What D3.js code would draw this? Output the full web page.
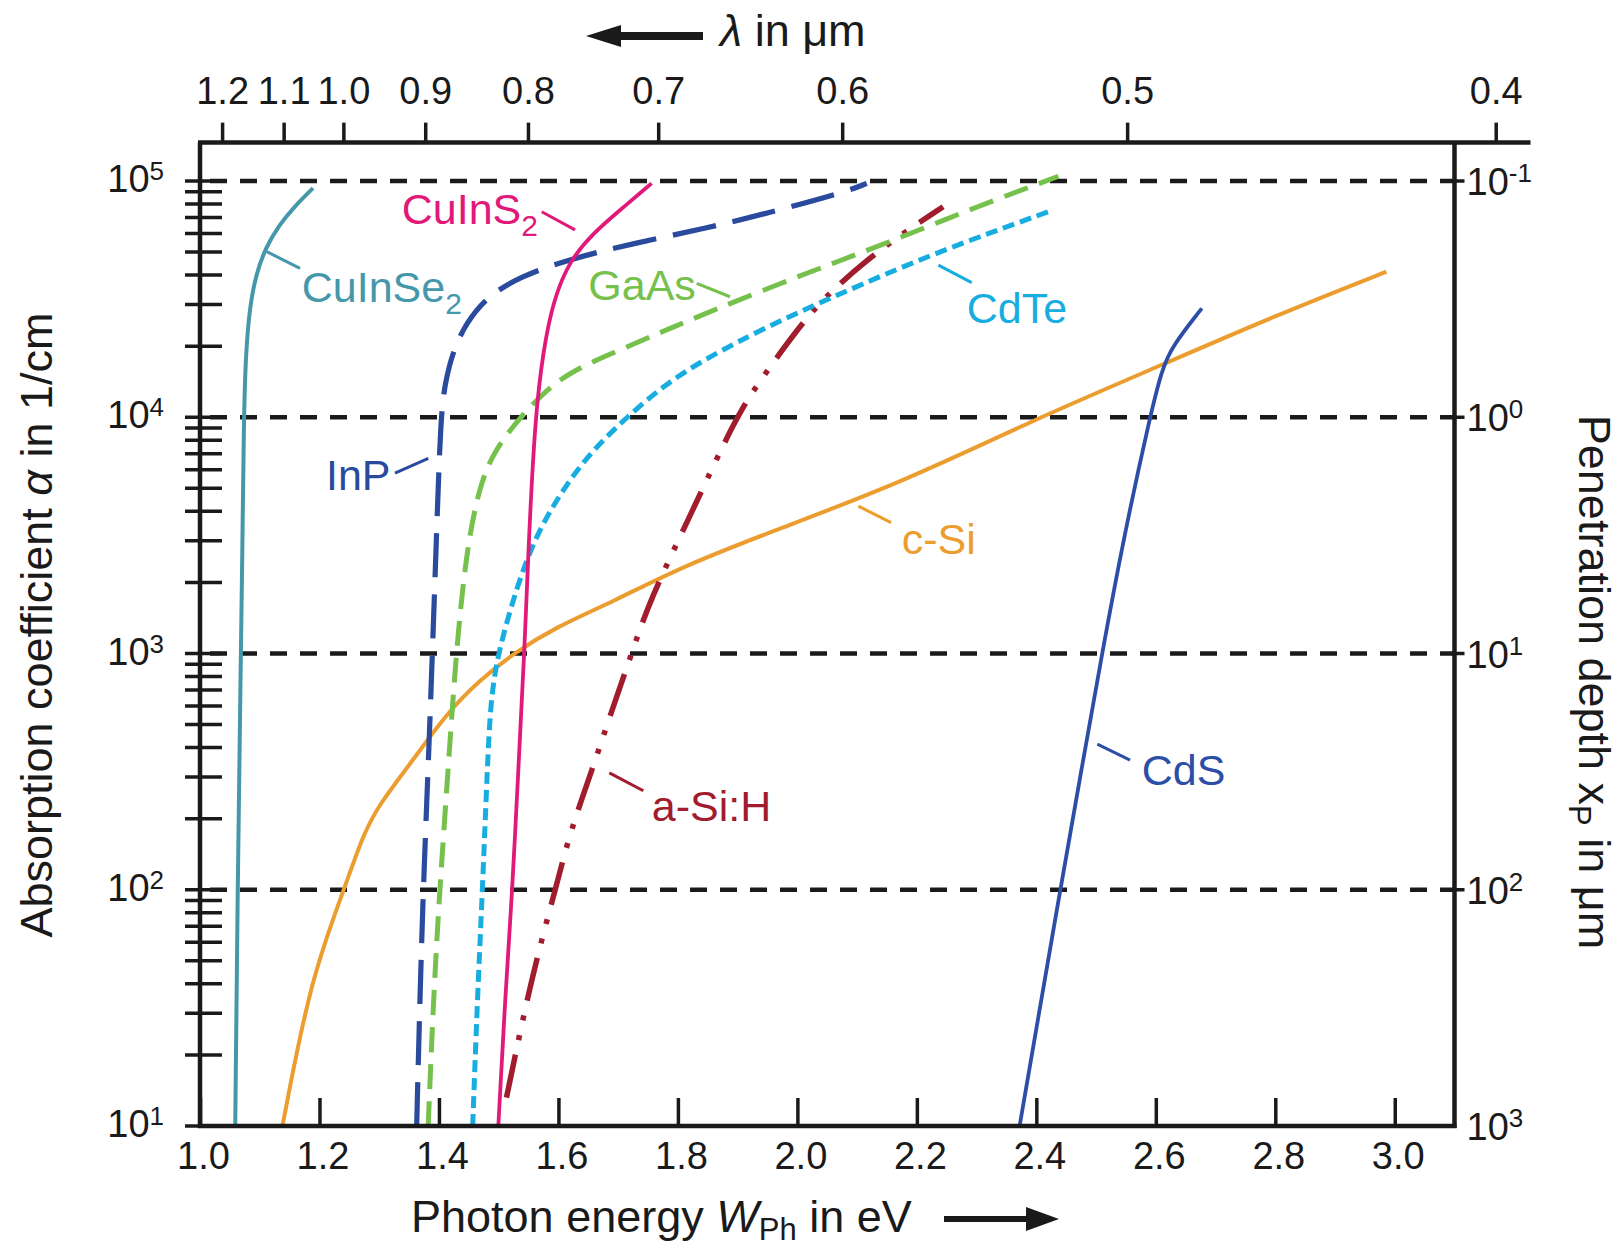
<!DOCTYPE html>
<html><head><meta charset="utf-8">
<script src="https://cdn.jsdelivr.net/npm/d3@7"></script>
<style>
html,body{margin:0;padding:0;background:#fff;}
svg{display:block;font-family:"Liberation Sans", Arial, Helvetica, sans-serif;}
</style></head><body>
<svg id="chart" width="1620" height="1248"></svg>
<script>
// ---------------- DATA ----------------
const energyTicks = [1.0, 1.2, 1.4, 1.6, 1.8, 2.0, 2.2, 2.4, 2.6, 2.8, 3.0];
const lambdaTicks = [1.2, 1.1, 1.0, 0.9, 0.8, 0.7, 0.6, 0.5, 0.4];
// photon energy (eV) at which each wavelength tick is drawn in the figure
const lambdaTickEnergy = [1.037, 1.140, 1.240, 1.377, 1.549, 1.767, 2.075, 2.552, 3.169];
const alphaDecades = [1e1, 1e2, 1e3, 1e4, 1e5];
const alphaExponents = ["1", "2", "3", "4", "5"];
const depthDecades = [1e3, 1e2, 1e1, 1e0, 1e-1];
const depthExponents = ["3", "2", "1", "0", "-1"];
const gridAlphas = [1e2, 1e3, 1e4, 1e5];

const cuinse2_E    = [1.059, 1.063, 1.068, 1.071, 1.0733, 1.0768, 1.0837, 1.0941, 1.1097, 1.1322, 1.1581, 1.1892];
const cuinse2_logA = [1.0, 2.0, 2.93, 3.44, 4.0, 4.279, 4.476, 4.607, 4.717, 4.813, 4.892, 4.970];

const inp_E    = [1.3627, 1.368, 1.374, 1.382, 1.389, 1.397, 1.403, 1.410, 1.424, 1.446, 1.480, 1.536, 1.614, 1.725, 1.848, 1.9486, 2.0825, 2.116];
const inp_logA = [1.0, 1.53, 2.02, 2.52, 3.0, 3.58, 4.0, 4.144, 4.285, 4.40, 4.51, 4.595, 4.666, 4.736, 4.80, 4.863, 4.955, 4.99];

const gaas_E    = [1.382, 1.3906, 1.4017, 1.4157, 1.4285, 1.446, 1.4687, 1.4938, 1.5357, 1.580, 1.625, 1.703, 1.781, 1.856, 2.021, 2.149, 2.300, 2.437];
const gaas_logA = [1.0, 1.53, 2.02, 2.52, 3.0, 3.44, 3.72, 3.862, 4.0, 4.116, 4.20, 4.285, 4.37, 4.45, 4.616, 4.736, 4.891, 5.02];

const cdte_E    = [1.4565, 1.4642, 1.4732, 1.481, 1.4865, 1.4985, 1.530, 1.5636, 1.614, 1.658, 1.714, 1.781, 1.848, 1.9486, 2.060, 2.2275, 2.428];
const cdte_logA = [1.0, 1.53, 2.02, 2.52, 2.80, 3.0, 3.28, 3.51, 3.72, 3.862, 4.0, 4.144, 4.25, 4.383, 4.51, 4.694, 4.877];

const cuins2_E    = [1.4994, 1.5106, 1.5234, 1.533, 1.543, 1.5496, 1.5608, 1.5747, 1.5914, 1.6194, 1.658, 1.703, 1.756];
const cuins2_logA = [1.0, 1.534, 2.02, 2.52, 3.0, 3.44, 4.0, 4.285, 4.496, 4.666, 4.779, 4.877, 4.99];

const asih_E    = [1.513, 1.547, 1.5747, 1.597, 1.619, 1.658, 1.686, 1.7226, 1.753, 1.82, 1.897, 1.9346, 1.9988, 2.046, 2.116, 2.177, 2.244];
const asih_logA = [1.12, 1.534, 1.816, 2.02, 2.24, 2.52, 2.733, 3.0, 3.227, 3.58, 4.0, 4.144, 4.37, 4.51, 4.666, 4.779, 4.891];

const csi_E    = [1.138, 1.185, 1.241, 1.274, 1.3013, 1.357, 1.413, 1.4687, 1.5245, 1.597, 1.692, 1.80, 1.95, 2.172, 2.395, 2.618, 2.80, 2.986];
const csi_logA = [1.0, 1.62, 2.0, 2.24, 2.366, 2.55, 2.747, 2.888, 3.0, 3.114, 3.22, 3.36, 3.51, 3.72, 3.989, 4.23, 4.43, 4.616];

const cds_E    = [2.372, 2.440, 2.475, 2.510, 2.547, 2.590, 2.610, 2.627, 2.677];
const cds_logA = [1.0, 2.0, 2.5, 3.0, 3.5, 4.0, 4.2, 4.3, 4.461];

// label annotations in data space: text anchor [E, log10 alpha], leader from/to
const labelNames = ["CuInSe", "CuInS", "GaAs", "InP", "CdTe", "c-Si", "a-Si:H", "CdS"];
const labelSubs  = ["2", "2", "", "", "", "", "", ""];
const labelTextE = [1.1703, 1.3377, 1.650, 1.2109, 2.2835, 2.1747, 1.7562, 2.5765];
const labelTextA = [4.489, 4.818, 4.496, 3.692, 4.400, 3.420, 2.292, 2.443];
const leaderE1 = [1.1117, 1.572, 1.8315, 1.3822, 2.2360, 2.1020, 1.6852, 2.5021];
const leaderA1 = [4.701, 4.870, 4.567, 3.826, 4.644, 3.624, 2.495, 2.616];
const leaderE2 = [1.1674, 1.6278, 1.8873, 1.3264, 2.2918, 2.1568, 1.7421, 2.5569];
const leaderA2 = [4.630, 4.793, 4.510, 3.763, 4.570, 3.554, 2.419, 2.549];

// ---------------- STYLE ----------------
const series = [
  {E: cuinse2_E, A: cuinse2_logA, color: "#4598a9", dash: null, w: 4},
  {E: csi_E,     A: csi_logA,     color: "#eb9d2f", dash: null, w: 4},
  {E: cds_E,     A: cds_logA,     color: "#2c4ea6", dash: null, w: 3.8},
  {E: asih_E,    A: asih_logA,    color: "#a11c2c", dash: "44 15 5 15 5 15", w: 5.5},
  {E: cdte_E,    A: cdte_logA,    color: "#17ade0", dash: "12 6", w: 5},
  {E: gaas_E,    A: gaas_logA,    color: "#76c04c", dash: "25 12", w: 5},
  {E: inp_E,     A: inp_logA,     color: "#2a4a9e", dash: "44 17", w: 5.2},
  {E: cuins2_E,  A: cuins2_logA,  color: "#e0197a", dash: null, w: 3.8}
];
const labelColors = ["#4598a9", "#e0197a", "#76c04c", "#2a4a9e", "#17ade0", "#eb9d2f", "#a11c2c", "#2c4ea6"];
const ink = "#1a1a1a";

const svg = d3.select("#chart");
const x = d3.scaleLinear().domain([1.0, 3.1]).range([200, 1454.5]);
const y = d3.scaleLog().domain([10, 1e5]).range([1126, 181]);
const yDepth = d3.scaleLog().domain([1e3, 1e-1]).range([1126, 181]);
const xTop = d3.scaleLinear().domain(lambdaTicks).range(lambdaTickEnergy.map(e => x(e)));
const plotTop = y(Math.pow(10, 5.1625));
const plotLeft = x.range()[0], plotRight = x.range()[1], plotBottom = y.range()[0];

// grid dashed lines
svg.append("g").selectAll("line").data(gridAlphas).join("line")
  .attr("x1", plotLeft + 10).attr("x2", plotRight)
  .attr("y1", d => y(d)).attr("y2", d => y(d))
  .attr("stroke", ink).attr("stroke-width", 4.5).attr("stroke-dasharray", "17 13");

// curves
const line = d3.line().x(d => x(d[0])).y(d => y(Math.pow(10, d[1]))).curve(d3.curveBasis);
svg.append("g").selectAll("path").data(series).join("path")
  .attr("d", s => line(s.E.map((e, i) => [e, s.A[i]])))
  .attr("fill", "none").attr("stroke", s => s.color).attr("stroke-width", s => s.w)
  .attr("stroke-dasharray", s => s.dash).attr("stroke-linejoin", "round");

// labels + leaders
const lab = svg.append("g");
labelNames.forEach((name, i) => {
  lab.append("line")
    .attr("x1", x(leaderE1[i])).attr("y1", y(Math.pow(10, leaderA1[i])))
    .attr("x2", x(leaderE2[i])).attr("y2", y(Math.pow(10, leaderA2[i])))
    .attr("stroke", labelColors[i]).attr("stroke-width", 3);
  const t = lab.append("text")
    .attr("x", x(labelTextE[i])).attr("y", y(Math.pow(10, labelTextA[i])))
    .attr("fill", labelColors[i]).attr("font-size", 43).text(name);
  if (labelSubs[i]) t.append("tspan").attr("dy", 12).attr("font-size", 30).text(labelSubs[i]);
});

// frame
const frame = svg.append("g").attr("stroke", ink).attr("stroke-width", 4.5).attr("fill", "none");
frame.append("line").attr("x1", plotLeft).attr("x2", plotLeft).attr("y1", plotTop).attr("y2", plotBottom + 2);
frame.append("line").attr("x1", plotRight).attr("x2", plotRight).attr("y1", plotTop).attr("y2", plotBottom + 2);
frame.append("line").attr("x1", plotLeft - 2).attr("x2", plotRight + 2).attr("y1", plotBottom).attr("y2", plotBottom);
frame.append("line").attr("x1", plotLeft - 2).attr("x2", plotRight + 76).attr("y1", plotTop).attr("y2", plotTop);

// bottom axis
const gB = svg.append("g").attr("transform", `translate(0,${plotBottom})`)
  .call(d3.axisBottom(x).tickValues(energyTicks).tickSize(-28).tickPadding(16).tickFormat(d3.format(".1f")));
gB.select(".domain").remove();
gB.selectAll(".tick line").attr("stroke", ink).attr("stroke-width", 3.5);
gB.selectAll(".tick text").attr("font-size", 38).attr("fill", ink).attr("font-family", null).attr("dx", 3);

// top axis (wavelength)
const gT = svg.append("g").attr("transform", `translate(0,${plotTop})`)
  .call(d3.axisTop(xTop).tickValues(lambdaTicks).tickSize(20).tickPadding(19).tickFormat(d3.format(".1f")));
gT.select(".domain").remove();
gT.selectAll(".tick line").attr("stroke", ink).attr("stroke-width", 3.5);
gT.selectAll(".tick text").attr("font-size", 38).attr("fill", ink).attr("font-family", null);

// left axis ticks (log minor)
const leftTicks = [];
for (let k = 1; k <= 4; k++) for (let m = 1; m <= 9; m++) leftTicks.push(m * Math.pow(10, k));
leftTicks.push(1e5);
svg.append("g").selectAll("line").data(leftTicks).join("line")
  .attr("x1", plotLeft - 15).attr("x2", plotLeft + 22)
  .attr("y1", d => y(d)).attr("y2", d => y(d))
  .attr("stroke", ink).attr("stroke-width", 3.5);
const leftLab = svg.append("g").selectAll("text").data(alphaDecades).join("text")
  .attr("x", plotLeft - 36).attr("y", d => y(d) + 11)
  .attr("text-anchor", "end").attr("font-size", 38).attr("fill", ink);
leftLab.append("tspan").text("10");
leftLab.append("tspan").attr("dy", -12).attr("font-size", 26).text((d, i) => alphaExponents[i]);

// right axis (penetration depth)
svg.append("g").selectAll("line").data(depthDecades.slice(1)).join("line")
  .attr("x1", plotRight - 3).attr("x2", plotRight + 10)
  .attr("y1", d => yDepth(d)).attr("y2", d => yDepth(d))
  .attr("stroke", ink).attr("stroke-width", 3.5);
const rightLab = svg.append("g").selectAll("text").data(depthDecades).join("text")
  .attr("x", plotRight + 12).attr("y", d => yDepth(d) + 14)
  .attr("font-size", 38).attr("fill", ink);
rightLab.append("tspan").text("10");
rightLab.append("tspan").attr("dy", -13).attr("font-size", 26).text((d, i) => depthExponents[i]);

// axis titles
const bt = svg.append("text").attr("x", 411).attr("y", 1232).attr("font-size", 45).attr("fill", ink);
bt.append("tspan").text("Photon energy ");
bt.append("tspan").attr("font-style", "italic").text("W");
bt.append("tspan").attr("font-size", 31).attr("dy", 8).text("Ph");
bt.append("tspan").attr("dy", -8).text(" in eV");
svg.append("path").attr("fill", ink)
  .attr("d", "M944,1216 L1026,1216 L1026,1207 L1059,1219 L1026,1231 L1026,1222 L944,1222 Z");

const tt = svg.append("text").attr("x", 720).attr("y", 46).attr("font-size", 45).attr("fill", ink);
tt.append("tspan").attr("font-style", "italic").text("λ");
tt.append("tspan").text(" in μm");
svg.append("path").attr("fill", ink)
  .attr("d", "M703,32 L621,32 L621,25 L586,36 L621,47 L621,40 L703,40 Z");

const lt = svg.append("text").attr("transform", "translate(52,625) rotate(-90)")
  .attr("text-anchor", "middle").attr("font-size", 45).attr("fill", ink);
lt.append("tspan").text("Absorption coefficient ");
lt.append("tspan").attr("font-style", "italic").text("α");
lt.append("tspan").text(" in 1/cm");

const rt = svg.append("text").attr("transform", "translate(1579,682) rotate(90)")
  .attr("text-anchor", "middle").attr("font-size", 45).attr("fill", ink);
rt.append("tspan").text("Penetration depth x");
rt.append("tspan").attr("font-size", 31).attr("dy", 10).text("P");
rt.append("tspan").attr("dy", -10).text(" in μm");
</script>
</body></html>
